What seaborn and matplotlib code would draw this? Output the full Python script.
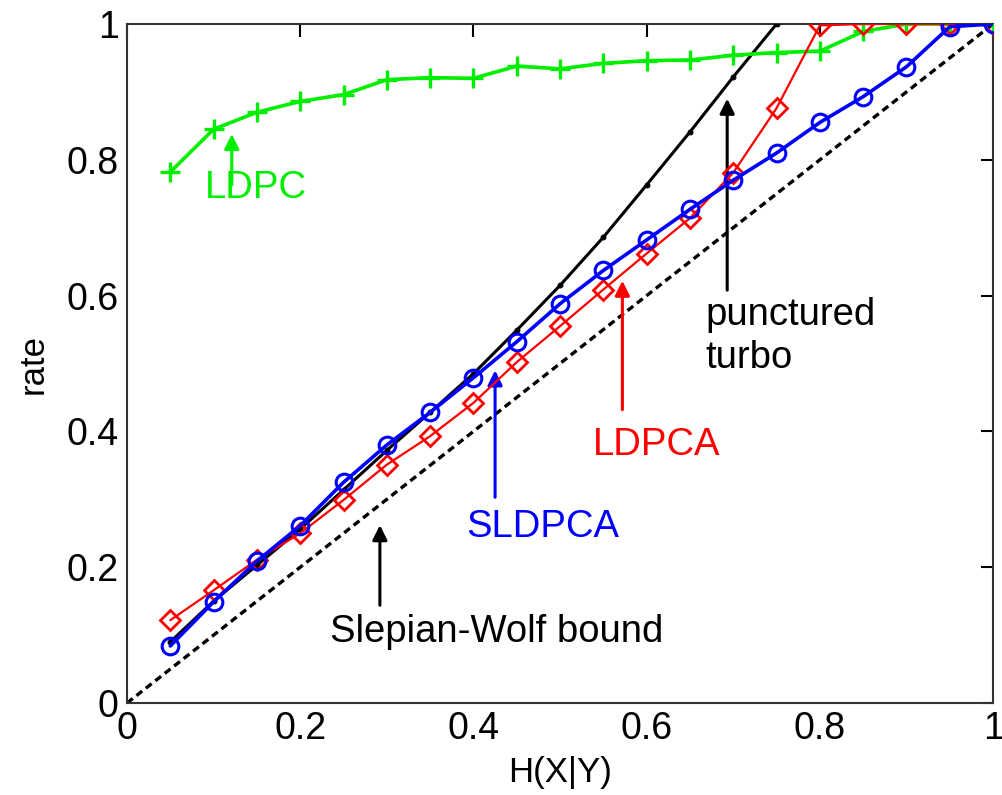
import matplotlib
matplotlib.use("Agg")
import matplotlib.pyplot as plt
import numpy as np
import pandas as pd
import seaborn as sns

# conditional entropy H(X|Y) sample points
h = [0.05, 0.10, 0.15, 0.20, 0.25, 0.30, 0.35, 0.40, 0.45, 0.50,
     0.55, 0.60, 0.65, 0.70, 0.75, 0.80, 0.85, 0.90, 0.95, 1.00]

ldpc = [0.782, 0.845, 0.870, 0.886, 0.896, 0.918, 0.921, 0.920, 0.938, 0.934,
        0.942, 0.946, 0.947, 0.954, 0.958, 0.960, 0.989, 1.0, 1.0, 1.0]
ldpca = [0.122, 0.166, 0.211, 0.250, 0.299, 0.351, 0.393, 0.442, 0.502, 0.555,
         0.609, 0.662, 0.714, 0.781, 0.876, 0.998, 1.0, 1.0, 1.0, 1.0]
sldpca = [0.084, 0.149, 0.209, 0.261, 0.325, 0.380, 0.428, 0.479, 0.532, 0.588,
          0.637, 0.682, 0.727, 0.770, 0.810, 0.855, 0.893, 0.937, 0.996, 1.0]

h_turbo = [0.05, 0.10, 0.15, 0.20, 0.25, 0.30, 0.35, 0.40,
           0.45, 0.50, 0.55, 0.60, 0.65, 0.70, 0.75]
turbo = [0.090, 0.150, 0.203, 0.256, 0.314, 0.372, 0.428, 0.485,
         0.549, 0.615, 0.686, 0.763, 0.841, 0.922, 1.0]

h_sw = [0.0, 1.0]
sw = [0.0, 1.0]

sns.set_theme(style="white")
plt.rcParams["font.family"] = ["Liberation Sans", "DejaVu Sans"]

fig = plt.figure(figsize=(10.03, 7.95), dpi=100)
ax = fig.add_axes([0.1266, 0.1157, 0.8635, 0.8541])

green = "#00ee00"
sns.lineplot(x=h_sw, y=sw, ax=ax, color="black", lw=2.4,
             linestyle=(0, (2.2, 1.4)), zorder=2)
sns.lineplot(x=h_turbo, y=turbo, ax=ax, color="black", lw=2.2,
             marker="o", markersize=3.5, markeredgecolor="black",
             markerfacecolor="black", zorder=3)
sns.lineplot(x=h, y=ldpc, ax=ax, color=green, lw=2.6, marker="+",
             markersize=15, markeredgecolor=green, markeredgewidth=2.4,
             zorder=4)
sns.lineplot(x=h, y=ldpca, ax=ax, color="red", lw=1.6, marker="D",
             markersize=10, markerfacecolor="none", markeredgecolor="red",
             markeredgewidth=2.0, zorder=5)
sns.lineplot(x=h, y=sldpca, ax=ax, color="blue", lw=2.6, marker="o",
             markersize=12, markerfacecolor="none", markeredgecolor="blue",
             markeredgewidth=2.2, zorder=6)

ax.set_xlim(0, 1)
ax.set_ylim(0, 1)
ax.set_xticks([0, 0.2, 0.4, 0.6, 0.8, 1])
ax.set_xticklabels(["0", "0.2", "0.4", "0.6", "0.8", "1"])
ax.set_yticks([0, 0.2, 0.4, 0.6, 0.8, 1])
ax.set_yticklabels(["0", "0.2", "0.4", "0.6", "0.8", "1"])
ax.tick_params(direction="in", length=9, width=1.5, labelsize=27,
               top=True, right=True, colors="black", pad=6)
for s in ax.spines.values():
    s.set_color("#333333")
    s.set_linewidth(1.5)
ax.set_xlabel("H(X|Y)", fontsize=25, labelpad=6, color="black")
ax.set_ylabel("rate", fontsize=25, labelpad=12, color="black")


def note(text, color, tip, tail, txt_xy, ha="left"):
    ax.annotate("", xy=tip, xytext=tail,
                arrowprops=dict(arrowstyle="-|>", color=color, lw=2.2,
                                mutation_scale=22, shrinkA=0, shrinkB=0))
    ax.text(txt_xy[0], txt_xy[1], text, color=color, fontsize=27.5,
            ha=ha, va="center", linespacing=1.25)


note("LDPC", green, (0.121, 0.838), (0.121, 0.763), (0.090, 0.758))
note("punctured\nturbo", "black", (0.693, 0.890), (0.693, 0.608), (0.668, 0.540))
note("LDPCA", "red", (0.572, 0.622), (0.572, 0.432), (0.538, 0.380))
note("SLDPCA", "blue", (0.425, 0.490), (0.425, 0.303), (0.392, 0.259))
note("Slepian-Wolf bound", "black", (0.292, 0.262), (0.292, 0.144), (0.234, 0.104))

fig.savefig("out.png", dpi=100)
